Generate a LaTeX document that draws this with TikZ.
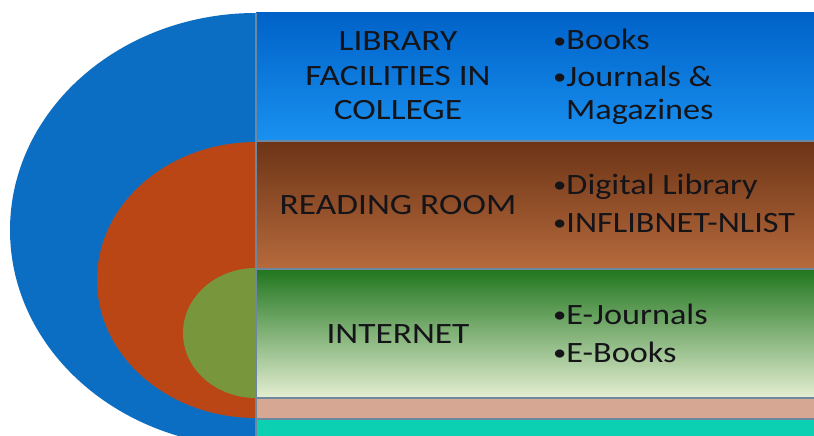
\documentclass[tikz,border=0pt]{standalone}
\usepackage{fontspec}
\setmainfont{Carlito}
\newfontfamily\bandfont[FakeStretch=1.2]{Carlito}
\newfontfamily\itemfont[FakeStretch=1.16]{Carlito}
\newcommand{\itembullet}{\raisebox{1.5pt}{\fontsize{23}{23}\selectfont•}}
\definecolor{ringblue}{RGB}{12,110,194}
\definecolor{ringorange}{RGB}{186,70,22}
\definecolor{ringgreen}{RGB}{120,150,60}
\definecolor{bluetop}{RGB}{0,98,200}
\definecolor{bluebot}{RGB}{25,145,240}
\definecolor{browntop}{RGB}{108,52,22}
\definecolor{brownbot}{RGB}{182,106,60}
\definecolor{greentop}{RGB}{32,118,30}
\definecolor{greenbot}{RGB}{228,238,210}
\definecolor{pinkband}{RGB}{214,168,148}
\definecolor{tealband}{RGB}{12,208,178}
\definecolor{bandline}{RGB}{110,135,160}
\definecolor{inktext}{RGB}{20,20,25}
\tikzset{
  bandtitle/.style={text=inktext,font=\bandfont\fontsize{29.5}{34.5}\selectfont,align=center,inner sep=0pt},
  banditem/.style={text=inktext,font=\itemfont\fontsize{29.5}{34.5}\selectfont,anchor=base west,inner sep=0pt},
  bandedge/.style={draw=bandline,line width=1.2pt}
}
\begin{document}
\begin{tikzpicture}[x=1pt,y=-1pt]
\useasboundingbox (0,0) rectangle (814,436);
\fill[white] (0,0) rectangle (814,436);

% half circles on the left
\begin{scope}
\clip (0,0) rectangle (256,436);
\fill[ringblue] (256,230) ellipse [x radius=246, y radius=217];
\fill[ringorange] (256,280) ellipse [x radius=159, y radius=138];
\fill[ringgreen] (256,333) ellipse [x radius=73, y radius=65];
\end{scope}

% bands
\shade[top color=bluetop, bottom color=bluebot] (256,13) rectangle (814,141);
\shade[top color=browntop, bottom color=brownbot] (256,141) rectangle (814,269);
\shade[top color=greentop, bottom color=greenbot] (256,269) rectangle (814,398);
\fill[pinkband] (256,398) rectangle (814,419);
\fill[tealband] (256,419) rectangle (814,436);
\draw[bandedge] (256,141) -- (814,141);
\draw[bandedge] (256,269) -- (814,269);
\draw[bandedge] (256,398) -- (814,398);
\draw[bandedge] (256,419) -- (814,419);
\draw[bandedge] (256,13) -- (256,436);

% titles
\node (library) [bandtitle] at (398,76) {LIBRARY\\FACILITIES IN\\COLLEGE};
\node (reading) [bandtitle] at (398,205) {READING ROOM};
\node (internet) [bandtitle] at (398,334) {INTERNET};

% items
\node (books) [banditem] at (553,50) {\itembullet Books};
\node (journals) [banditem] at (553,86) {\itembullet Journals \&};
\node (magazines) [banditem] at (566,119) {Magazines};
\node (digital) [banditem] at (553,194) {\itembullet Digital Library};
\node (inflib) [banditem] at (553,232) {\itembullet INFLIBNET-NLIST};
\node (ejournals) [banditem] at (553,324) {\itembullet E-Journals};
\node (ebooks) [banditem] at (553,362) {\itembullet E-Books};

\end{tikzpicture}
\end{document}
